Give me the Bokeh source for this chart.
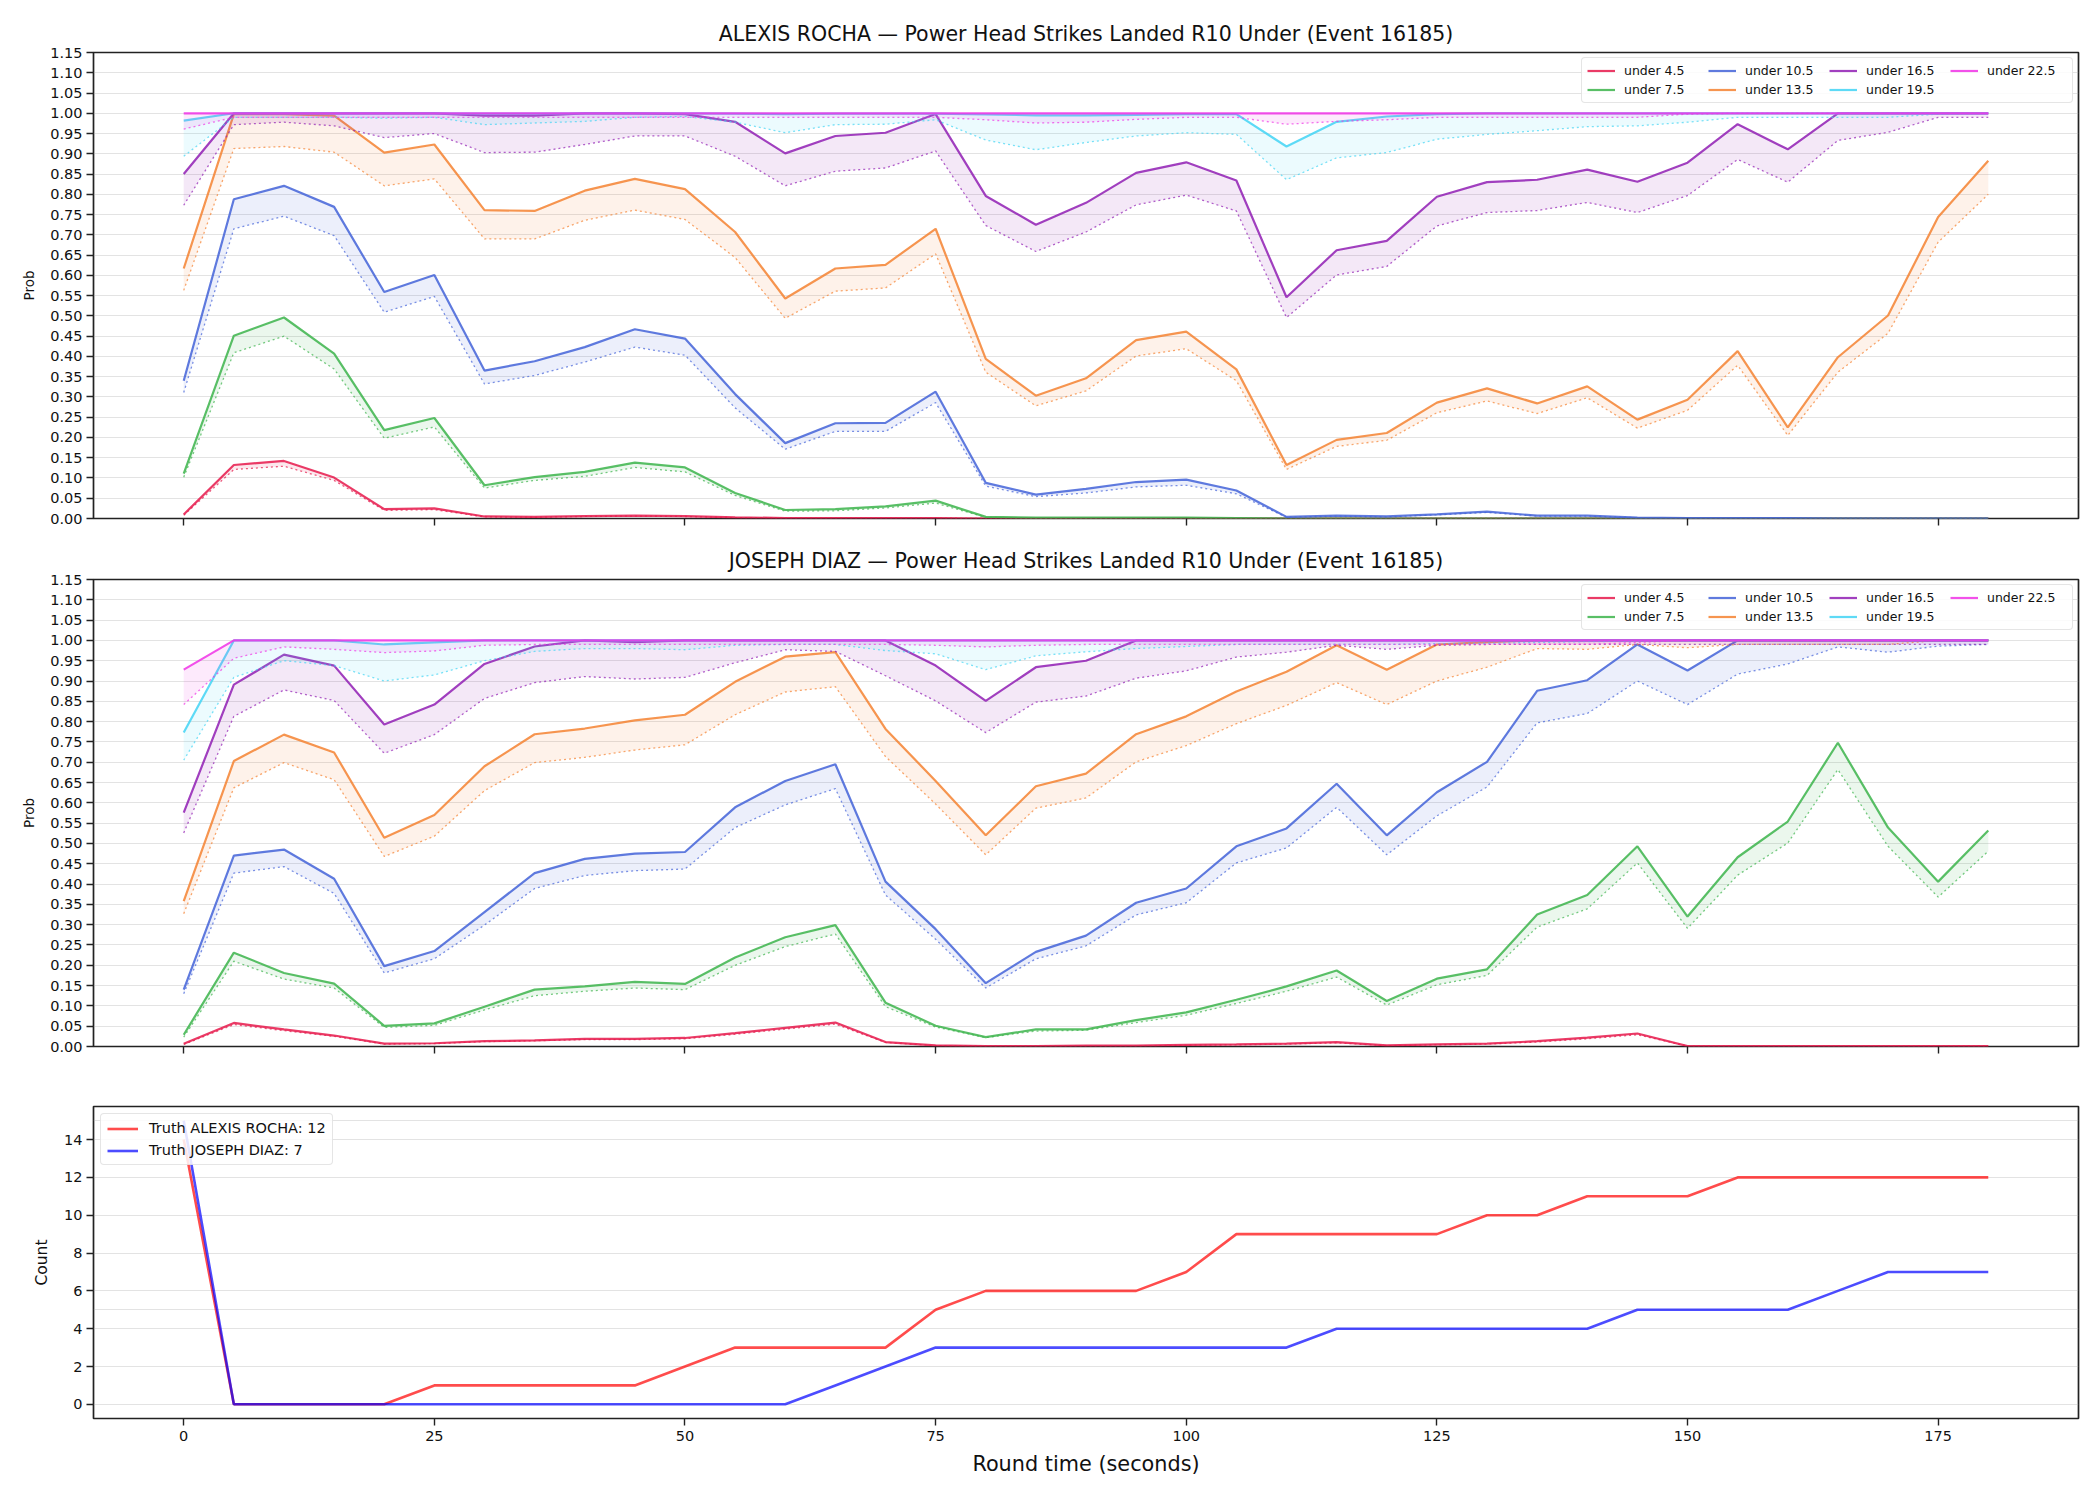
from bokeh.plotting import figure
from bokeh.models import Legend, LegendItem, Range1d, FixedTicker, NumeralTickFormatter, CustomJSTickFormatter
from bokeh.layouts import column
from bokeh.embed import file_html
from bokeh.resources import INLINE

FONT = "DejaVu Sans"

# ---------------- data ----------------
t = [0, 5, 10, 15, 20, 25, 30, 35, 40, 45, 50, 55, 60, 65, 70, 75, 80, 85, 90,
     95, 100, 105, 110, 115, 120, 125, 130, 135, 140, 145, 150, 155, 160, 165, 170, 175, 180]

labels = ["under 4.5", "under 7.5", "under 10.5", "under 13.5", "under 16.5", "under 19.5", "under 22.5"]
colors = ["#e6194b", "#3cb44b", "#4363d8", "#f58231", "#911eb4", "#42d4f4", "#f032e6"]

# ALEXIS ROCHA
r_u45 = [0.010, 0.132, 0.142, 0.101, 0.023, 0.025, 0.005, 0.004, 0.006, 0.007, 0.006, 0.003, 0.001, 0.001, 0.001, 0.001,
         0.0, 0.0, 0.0, 0.0, 0.0, 0.0, 0.0, 0.0, 0.0, 0.0, 0.0, 0.0, 0.0, 0.0, 0.0, 0.0, 0.0, 0.0, 0.0, 0.0, 0.0]
r_u45_lo = [0.008, 0.121, 0.129, 0.094, 0.020, 0.022, 0.004, 0.003, 0.005, 0.006, 0.005, 0.002, 0.001, 0.001, 0.001, 0.001,
            0.0, 0.0, 0.0, 0.0, 0.0, 0.0, 0.0, 0.0, 0.0, 0.0, 0.0, 0.0, 0.0, 0.0, 0.0, 0.0, 0.0, 0.0, 0.0, 0.0, 0.0]
r_u75 = [0.111, 0.451, 0.496, 0.407, 0.218, 0.248, 0.082, 0.102, 0.115, 0.138, 0.126, 0.063, 0.021, 0.023, 0.030, 0.044,
         0.004, 0.002, 0.002, 0.002, 0.002, 0.001, 0.0, 0.0, 0.0, 0.0, 0.0, 0.0, 0.0, 0.0, 0.0, 0.0, 0.0, 0.0, 0.0, 0.0, 0.0]
r_u75_lo = [0.102, 0.409, 0.450, 0.369, 0.198, 0.226, 0.075, 0.094, 0.104, 0.126, 0.115, 0.057, 0.018, 0.019, 0.026, 0.038,
            0.003, 0.001, 0.001, 0.001, 0.001, 0.001, 0.0, 0.0, 0.0, 0.0, 0.0, 0.0, 0.0, 0.0, 0.0, 0.0, 0.0, 0.0, 0.0, 0.0, 0.0]
r_u105 = [0.340, 0.788, 0.821, 0.769, 0.559, 0.601, 0.365, 0.388, 0.423, 0.467, 0.444, 0.307, 0.186, 0.235, 0.236, 0.313,
          0.088, 0.059, 0.073, 0.090, 0.096, 0.069, 0.004, 0.007, 0.005, 0.010, 0.017, 0.007, 0.007, 0.002, 0.001, 0.001,
          0.001, 0.0, 0.0, 0.0, 0.0]
r_u105_lo = [0.311, 0.715, 0.746, 0.698, 0.509, 0.548, 0.332, 0.353, 0.386, 0.423, 0.403, 0.273, 0.171, 0.215, 0.215, 0.286,
             0.080, 0.054, 0.063, 0.078, 0.082, 0.061, 0.003, 0.006, 0.004, 0.009, 0.015, 0.006, 0.006, 0.002, 0.001, 0.001,
             0.001, 0.0, 0.0, 0.0, 0.0]
r_u135 = [0.617, 0.998, 0.998, 0.994, 0.903, 0.923, 0.761, 0.759, 0.809, 0.838, 0.813, 0.707, 0.543, 0.617, 0.626, 0.715,
          0.394, 0.303, 0.346, 0.440, 0.461, 0.368, 0.132, 0.194, 0.211, 0.286, 0.321, 0.284, 0.326, 0.244, 0.293, 0.413,
          0.225, 0.398, 0.501, 0.744, 0.883]
r_u135_lo = [0.563, 0.913, 0.918, 0.904, 0.821, 0.838, 0.690, 0.690, 0.736, 0.761, 0.738, 0.644, 0.494, 0.561, 0.569, 0.653,
             0.361, 0.278, 0.315, 0.401, 0.419, 0.340, 0.121, 0.178, 0.193, 0.261, 0.290, 0.259, 0.298, 0.223, 0.267, 0.378,
             0.205, 0.361, 0.457, 0.682, 0.800]
r_u165 = [0.850, 1.0, 1.0, 1.0, 1.0, 1.0, 0.994, 0.994, 1.0, 1.0, 0.998, 0.979, 0.901, 0.944, 0.952, 0.998,
          0.796, 0.725, 0.779, 0.853, 0.879, 0.834, 0.546, 0.662, 0.685, 0.794, 0.830, 0.836, 0.861, 0.831, 0.878, 0.973,
          0.911, 1.0, 1.0, 1.0, 1.0]
r_u165_lo = [0.773, 0.972, 0.978, 0.969, 0.940, 0.950, 0.903, 0.904, 0.923, 0.944, 0.944, 0.894, 0.821, 0.857, 0.865, 0.907,
             0.723, 0.659, 0.707, 0.774, 0.798, 0.759, 0.496, 0.601, 0.622, 0.722, 0.755, 0.760, 0.780, 0.755, 0.797, 0.886,
             0.830, 0.933, 0.953, 0.990, 0.990]
r_u195 = [0.982, 1.0, 1.0, 1.0, 1.0, 1.0, 0.999, 0.999, 1.0, 1.0, 1.0, 0.999, 0.998, 0.999, 0.999, 0.999,
          0.997, 0.995, 0.995, 0.996, 0.998, 0.998, 0.918, 0.979, 0.992, 0.998, 1.0, 1.0, 1.0, 1.0, 1.0, 1.0,
          1.0, 1.0, 1.0, 1.0, 1.0]
r_u195_lo = [0.894, 0.990, 0.990, 0.990, 0.988, 0.990, 0.972, 0.976, 0.980, 0.990, 0.992, 0.978, 0.952, 0.972, 0.973, 0.984,
             0.934, 0.910, 0.928, 0.944, 0.952, 0.948, 0.836, 0.890, 0.903, 0.936, 0.948, 0.957, 0.967, 0.969, 0.978, 0.990,
             0.990, 0.990, 0.990, 0.998, 1.0]
r_u225 = [1.0, 1.0, 1.0, 1.0, 1.0, 1.0, 1.0, 1.0, 1.0, 1.0, 1.0, 1.0, 1.0, 1.0, 1.0, 1.0,
          1.0, 1.0, 1.0, 1.0, 1.0, 1.0, 1.0, 1.0, 1.0, 1.0, 1.0, 1.0, 1.0, 1.0, 1.0, 1.0, 1.0, 1.0, 1.0, 1.0, 1.0]
r_u225_lo = [0.961, 0.990, 0.990, 0.990, 0.990, 0.990, 0.990, 0.990, 0.990, 0.990, 0.990, 0.990, 0.990, 0.990, 0.990, 0.990,
             0.984, 0.976, 0.978, 0.985, 0.990, 0.990, 0.973, 0.980, 0.984, 0.990, 0.990, 0.990, 0.990, 0.990, 0.998, 1.0,
             1.0, 1.0, 1.0, 1.0, 1.0]

# JOSEPH DIAZ
d_u45 = [0.007, 0.058, 0.042, 0.027, 0.007, 0.008, 0.013, 0.015, 0.019, 0.019, 0.021, 0.033, 0.046, 0.059, 0.011, 0.003,
         0.001, 0.001, 0.002, 0.002, 0.004, 0.005, 0.007, 0.011, 0.003, 0.005, 0.007, 0.013, 0.022, 0.032,
         0.001, 0.001, 0.001, 0.001, 0.001, 0.001, 0.001]
d_u45_lo = [0.005, 0.054, 0.039, 0.025, 0.006, 0.007, 0.012, 0.014, 0.017, 0.017, 0.019, 0.030, 0.043, 0.055, 0.010, 0.002,
            0.001, 0.001, 0.001, 0.001, 0.003, 0.004, 0.006, 0.009, 0.002, 0.004, 0.006, 0.011, 0.019, 0.029,
            0.001, 0.001, 0.001, 0.001, 0.001, 0.001, 0.001]
d_u75 = [0.029, 0.231, 0.181, 0.155, 0.051, 0.057, 0.098, 0.140, 0.148, 0.159, 0.154, 0.219, 0.269, 0.299, 0.108, 0.051,
         0.023, 0.042, 0.042, 0.065, 0.084, 0.115, 0.148, 0.187, 0.112, 0.167, 0.190, 0.325, 0.373, 0.493, 0.320, 0.466,
         0.554, 0.748, 0.539, 0.406, 0.532]
d_u75_lo = [0.023, 0.210, 0.166, 0.144, 0.047, 0.052, 0.090, 0.125, 0.136, 0.144, 0.140, 0.200, 0.246, 0.277, 0.098, 0.048,
            0.022, 0.038, 0.040, 0.059, 0.077, 0.106, 0.136, 0.171, 0.102, 0.152, 0.175, 0.294, 0.339, 0.452, 0.291, 0.422,
            0.501, 0.682, 0.493, 0.368, 0.481]
d_u105 = [0.140, 0.470, 0.485, 0.413, 0.198, 0.235, 0.331, 0.427, 0.462, 0.475, 0.479, 0.589, 0.654, 0.695, 0.406, 0.289,
          0.156, 0.233, 0.273, 0.354, 0.389, 0.493, 0.537, 0.647, 0.520, 0.626, 0.701, 0.876, 0.902, 0.990, 0.926, 1.0,
          1.0, 1.0, 1.0, 1.0, 1.0]
d_u105_lo = [0.130, 0.427, 0.443, 0.377, 0.181, 0.216, 0.299, 0.389, 0.421, 0.433, 0.437, 0.539, 0.595, 0.635, 0.373, 0.264,
             0.144, 0.216, 0.248, 0.324, 0.354, 0.452, 0.489, 0.589, 0.472, 0.568, 0.639, 0.797, 0.820, 0.900, 0.842, 0.917,
             0.942, 0.984, 0.971, 0.986, 0.990]
d_u135 = [0.358, 0.703, 0.768, 0.724, 0.514, 0.570, 0.690, 0.769, 0.783, 0.803, 0.817, 0.898, 0.960, 0.971, 0.782, 0.654,
          0.520, 0.641, 0.672, 0.769, 0.813, 0.874, 0.923, 0.988, 0.928, 0.990, 0.996, 1.0, 1.0, 1.0, 1.0, 1.0,
          1.0, 1.0, 1.0, 1.0, 1.0]
d_u135_lo = [0.327, 0.637, 0.699, 0.657, 0.468, 0.518, 0.630, 0.699, 0.712, 0.730, 0.743, 0.817, 0.873, 0.886, 0.714, 0.597,
             0.472, 0.587, 0.612, 0.701, 0.741, 0.795, 0.840, 0.896, 0.842, 0.900, 0.934, 0.980, 0.978, 0.990, 0.982, 0.990,
             0.990, 0.990, 0.990, 1.0, 1.0]
d_u165 = [0.576, 0.891, 0.965, 0.938, 0.793, 0.842, 0.942, 0.985, 1.0, 0.996, 1.0, 1.0, 1.0, 1.0, 1.0, 0.938,
          0.851, 0.934, 0.950, 1.0, 1.0, 1.0, 1.0, 1.0, 1.0, 1.0, 1.0, 1.0, 1.0, 1.0, 1.0, 1.0,
          1.0, 1.0, 1.0, 1.0, 1.0]
d_u165_lo = [0.526, 0.813, 0.878, 0.852, 0.722, 0.768, 0.857, 0.896, 0.911, 0.905, 0.909, 0.945, 0.977, 0.973, 0.913, 0.851,
             0.773, 0.848, 0.863, 0.907, 0.925, 0.959, 0.971, 0.988, 0.978, 0.988, 0.990, 0.990, 0.990, 0.990, 0.990, 0.990,
             0.990, 0.990, 0.990, 0.990, 0.990]
d_u195 = [0.773, 1.0, 1.0, 1.0, 0.990, 0.995, 1.0, 1.0, 1.0, 1.0, 1.0, 1.0, 1.0, 1.0, 1.0, 1.0,
          1.0, 1.0, 1.0, 1.0, 1.0, 1.0, 1.0, 1.0, 1.0, 1.0, 1.0, 1.0, 1.0, 1.0, 1.0, 1.0,
          1.0, 1.0, 1.0, 1.0, 1.0]
d_u195_lo = [0.705, 0.909, 0.950, 0.938, 0.900, 0.915, 0.950, 0.973, 0.980, 0.980, 0.977, 0.988, 0.990, 0.990, 0.975, 0.967,
             0.928, 0.962, 0.972, 0.980, 0.985, 0.990, 0.990, 0.990, 0.990, 0.992, 0.993, 0.995, 0.997, 0.998, 0.999, 1.0,
             1.0, 1.0, 1.0, 1.0, 1.0]
d_u225 = [0.928, 1.0, 1.0, 1.0, 1.0, 1.0, 1.0, 1.0, 1.0, 1.0, 1.0, 1.0, 1.0, 1.0, 1.0, 1.0,
          1.0, 1.0, 1.0, 1.0, 1.0, 1.0, 1.0, 1.0, 1.0, 1.0, 1.0, 1.0, 1.0, 1.0, 1.0, 1.0,
          1.0, 1.0, 1.0, 1.0, 1.0]
d_u225_lo = [0.842, 0.956, 0.984, 0.978, 0.970, 0.974, 0.988, 0.990, 0.990, 0.990, 0.990, 0.990, 0.990, 0.990, 0.990, 0.988,
             0.984, 0.988, 0.990, 0.990, 0.990, 0.990, 0.990, 0.990, 0.990, 0.990, 0.990, 0.990, 0.990, 0.995, 1.0, 1.0,
             1.0, 1.0, 1.0, 1.0, 1.0]

truth_rocha = [14, 0, 0, 0, 0, 1, 1, 1, 1, 1, 2, 3, 3, 3, 3, 5, 6, 6, 6, 6, 7, 9, 9, 9, 9, 9, 10, 10, 11, 11, 11,
               12, 12, 12, 12, 12, 12]
truth_diaz = [15, 0, 0, 0, 0, 0, 0, 0, 0, 0, 0, 0, 0, 1, 2, 3, 3, 3, 3, 3, 3, 3, 3, 4, 4, 4, 4, 4, 4, 5, 5, 5, 5,
              6, 7, 7, 7]

rocha_hi = [r_u45, r_u75, r_u105, r_u135, r_u165, r_u195, r_u225]
rocha_lo = [r_u45_lo, r_u75_lo, r_u105_lo, r_u135_lo, r_u165_lo, r_u195_lo, r_u225_lo]
diaz_hi = [d_u45, d_u75, d_u105, d_u135, d_u165, d_u195, d_u225]
diaz_lo = [d_u45_lo, d_u75_lo, d_u105_lo, d_u135_lo, d_u165_lo, d_u195_lo, d_u225_lo]

xticks = [0, 25, 50, 75, 100, 125, 150, 175]
prob_ticks = [round(i * 0.05, 2) for i in range(24)]


def style_common(p):
    p.outline_line_color = "#222222"
    p.outline_line_width = 1.7
    p.outline_line_alpha = 1.0
    p.xgrid.visible = False
    p.ygrid.grid_line_color = "#b0b0b0"
    p.ygrid.grid_line_alpha = 0.35
    p.ygrid.grid_line_width = 1.2
    for ax in (p.xaxis[0], p.yaxis[0]):
        ax.axis_line_color = None
        ax.major_tick_line_color = "#222222"
        ax.major_tick_line_width = 1.4
        ax.major_tick_out = 7
        ax.major_tick_in = 0
        ax.minor_tick_line_color = None
        ax.major_label_text_font = FONT
        ax.major_label_text_font_size = "14.5px"
        ax.major_label_text_color = "#111111"
        ax.axis_label_text_font = FONT
        ax.axis_label_text_font_style = "normal"
        ax.axis_label_text_color = "#111111"
    p.xaxis.ticker = FixedTicker(ticks=xticks)
    p.background_fill_color = "white"
    p.border_fill_color = "white"


def prob_fig(title, his, los, height, top, bottom):
    p = figure(width=2100, height=height, output_backend="svg", toolbar_location=None,
               x_range=Range1d(-9, 189), y_range=Range1d(0, 1.15),
               min_border_left=93, min_border_right=22, min_border_top=top, min_border_bottom=bottom,
               title=title)
    style_common(p)
    p.title.text_font = FONT
    p.title.text_font_size = "20.5px"
    p.title.text_font_style = "normal"
    p.title.align = "center"
    p.title.text_color = "#111111"
    p.title.standoff = 13
    p.yaxis.ticker = FixedTicker(ticks=prob_ticks)
    p.ygrid.ticker = FixedTicker(ticks=prob_ticks)
    p.yaxis.formatter = NumeralTickFormatter(format="0.00")
    p.yaxis.axis_label = "Prob"
    p.yaxis.axis_label_text_font_size = "13.5px"
    p.yaxis.axis_label_standoff = 10
    p.yaxis.major_label_standoff = 4
    # tick marks only, no tick labels on the upper panels
    p.xaxis.formatter = CustomJSTickFormatter(code="return '';")
    p.xaxis.major_label_standoff = 0

    items = []
    for lab, col, hi, lo in zip(labels, colors, his, los):
        p.varea(x=t, y1=lo, y2=hi, fill_color=col, fill_alpha=0.1)
        p.line(t, lo, line_color=col, line_width=1.3, line_alpha=0.7, line_dash="2 3")
        r = p.line(t, hi, line_color=col, line_width=2.2, line_alpha=0.85)
        items.append(LegendItem(label=lab, renderers=[r]))
    leg = Legend(items=items, location="top_right", orientation="vertical", nrows=2)
    leg.label_text_font = FONT
    leg.label_text_font_size = "12.5px"
    leg.label_text_color = "#111111"
    leg.glyph_width = 28
    leg.glyph_height = 13
    leg.label_height = 13
    leg.label_width = 80
    leg.label_standoff = 9
    leg.spacing = 4
    leg.padding = 5
    leg.margin = 5
    leg.border_line_color = "#cccccc"
    leg.border_line_width = 1.5
    leg.border_radius = 4
    leg.background_fill_alpha = 0.85
    p.add_layout(leg)
    return p


p1 = prob_fig("ALEXIS ROCHA \u2014 Power Head Strikes Landed R10 Under (Event 16185)", rocha_hi, rocha_lo,
              530, 52, 12)
p2 = prob_fig("JOSEPH DIAZ \u2014 Power Head Strikes Landed R10 Under (Event 16185)", diaz_hi, diaz_lo,
              530, 49, 14)

p3 = figure(width=2100, height=440, output_backend="svg", toolbar_location=None,
            x_range=Range1d(-9, 189), y_range=Range1d(-0.75, 15.75),
            min_border_left=93, min_border_right=22, min_border_top=46, min_border_bottom=82)
style_common(p3)
p3.yaxis.ticker = FixedTicker(ticks=[0, 2, 4, 6, 8, 10, 12, 14])
p3.ygrid.ticker = FixedTicker(ticks=[0, 2, 4, 5, 6, 8, 10, 12, 14, 15])
p3.yaxis.axis_label = "Count"
p3.yaxis.axis_label_text_font_size = "15.5px"
p3.yaxis.axis_label_standoff = 10
p3.yaxis.major_label_standoff = 4
p3.xaxis.axis_label = "Round time (seconds)"
p3.xaxis.axis_label_text_font_size = "20.8px"
p3.xaxis.axis_label_standoff = 8
p3.xaxis.major_label_standoff = 5
ra = p3.line(t, truth_rocha, line_color="red", line_alpha=0.7, line_width=2.6)
rb = p3.line(t, truth_diaz, line_color="blue", line_alpha=0.7, line_width=2.6)
leg3 = Legend(items=[LegendItem(label="Truth ALEXIS ROCHA: 12", renderers=[ra]),
                     LegendItem(label="Truth JOSEPH DIAZ: 7", renderers=[rb])],
              location="top_left")
leg3.label_text_font = FONT
leg3.label_text_font_size = "14.5px"
leg3.label_text_color = "#111111"
leg3.glyph_width = 31
leg3.glyph_height = 15
leg3.label_height = 15
leg3.label_standoff = 11
leg3.spacing = 6
leg3.padding = 6
leg3.margin = 7
leg3.border_line_color = "#cccccc"
leg3.border_line_width = 1.5
leg3.border_radius = 4
leg3.background_fill_alpha = 0.85
p3.add_layout(leg3)

layout = column(p1, p2, p3, spacing=0)
open("out.html", "w").write(file_html(layout, INLINE))
